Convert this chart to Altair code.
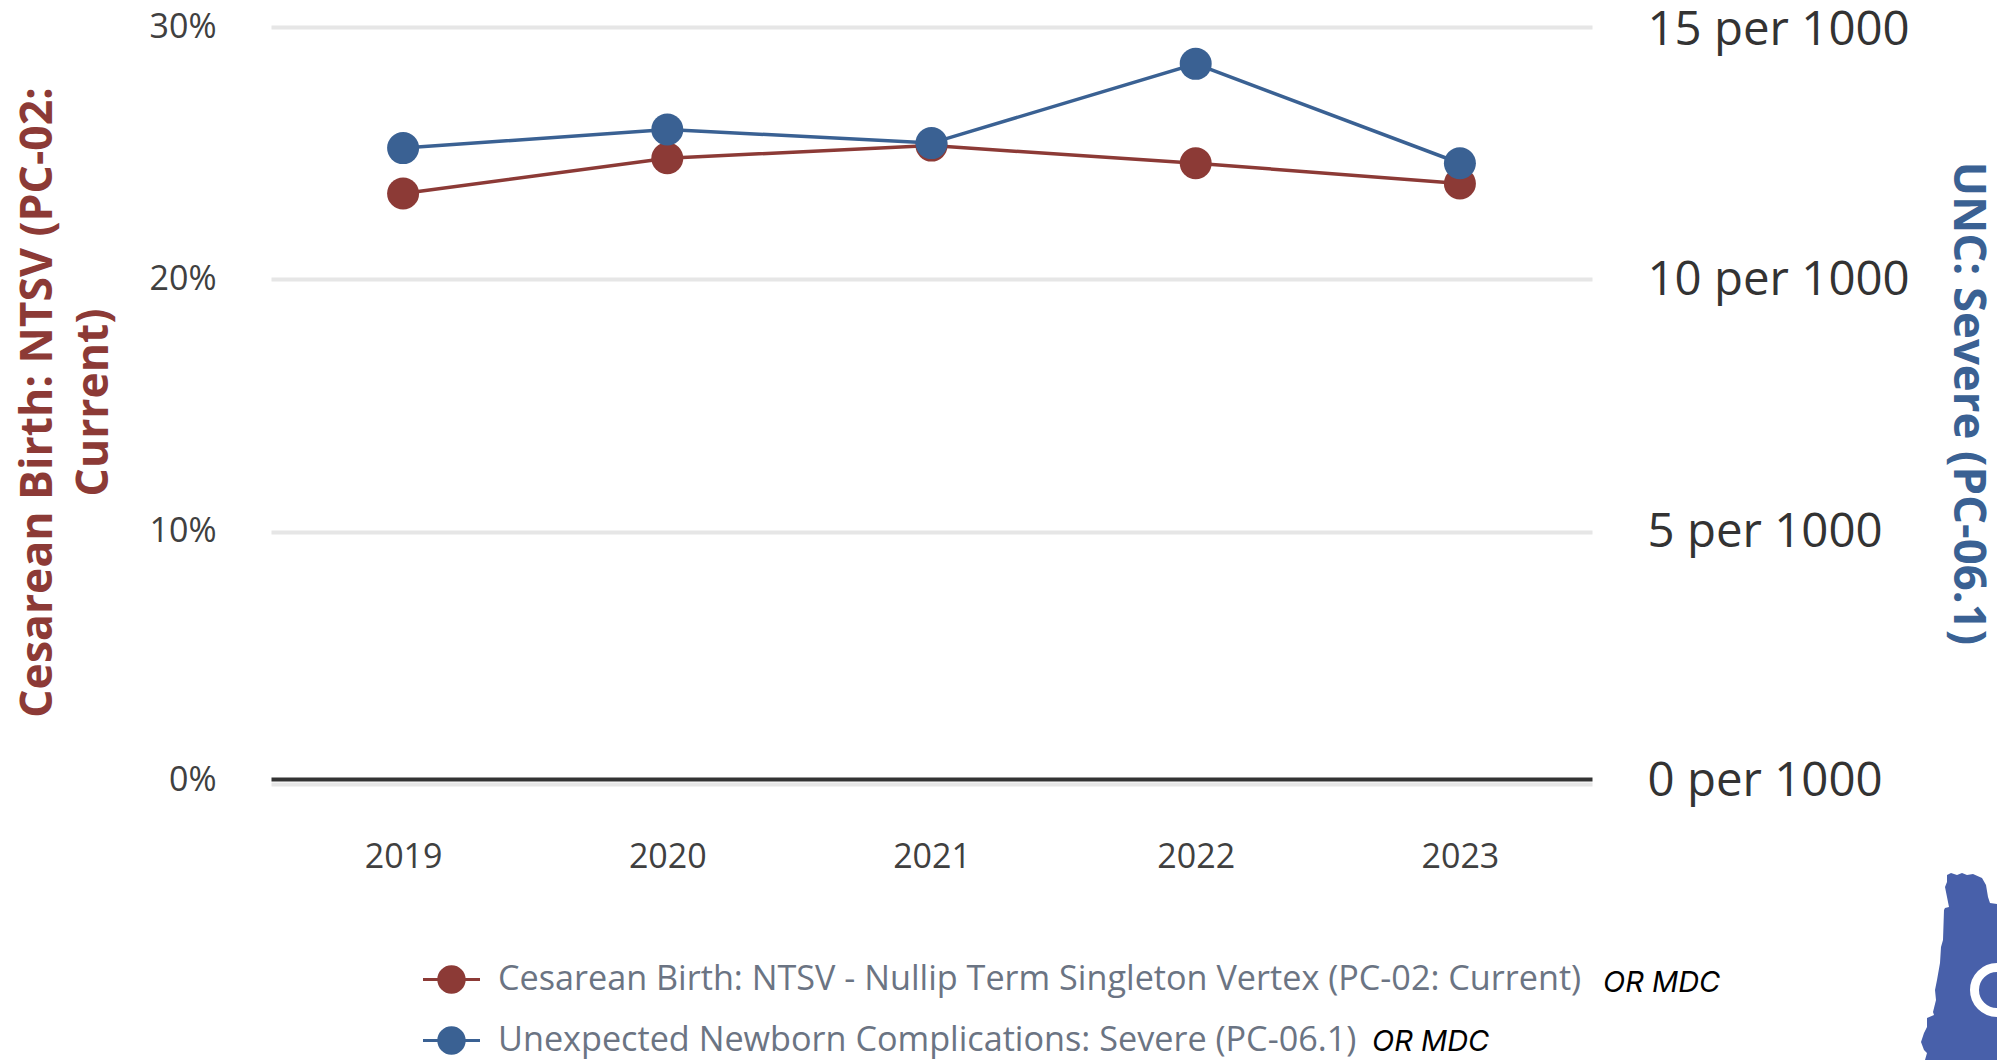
import altair as alt
import pandas as pd

years = ["2019", "2020", "2021", "2022", "2023"]
cesarean = [23.4, 24.8, 25.3, 24.6, 23.8]
newborn = [12.6, 12.97, 12.7, 14.27, 12.3]
name_c = "Cesarean Birth: NTSV - Nullip Term Singleton Vertex (PC-02: Current)"
name_n = "Unexpected Newborn Complications: Severe (PC-06.1)"
left_title = ["Cesarean Birth: NTSV (PC-02:", "Current)"]
right_title = "UNC: Severe (PC-06.1)"
note = "OR MDC"
RED, BLUE = "#8c3a36", "#3a6193"
FONT = "Open Sans"

df_c = pd.DataFrame({"year": years, "value": cesarean, "series": name_c})
df_n = pd.DataFrame({"year": years, "value": newborn, "series": name_n})
one = pd.DataFrame({"label": [note]})

legend_symbol = ("M-1,-0.055 L1,-0.055 L1,0.055 L-1,0.055 Z "
                 "M0.5,0 A0.5,0.5 0 1 1 -0.5,0 A0.5,0.5 0 1 1 0.5,0 Z")
zero_shift = {"condition": {"test": "datum.value === 0", "value": -3.7}, "value": 0}
right_shift = {"condition": [{"test": "datum.value === 0", "value": -2.7},
                             {"test": "datum.value === 15", "value": 3}], "value": 1}

X = alt.X("year:N", title=None, scale=alt.Scale(type="point", padding=0.5),
          axis=alt.Axis(labelAngle=0, labelFont=FONT, labelFontSize=34, labelColor="#404040",
                        labelPadding=61.5, ticks=False, grid=False, offset=-5,
                        domainColor="#333333", domainWidth=4))
color = alt.Color("series:N", scale=alt.Scale(domain=[name_c, name_n], range=[RED, BLUE]),
                  legend=alt.Legend(title=None, orient="none", legendX=152, legendY=924,
                                    symbolType=legend_symbol, symbolSize=3249,
                                    symbolStrokeWidth=0, labelFont=FONT, labelFontSize=34.2,
                                    labelColor="#6b7483", labelLimit=1300, rowPadding=15,
                                    labelOffset=18))
Y_L = alt.Y("value:Q", scale=alt.Scale(domain=[0, 30]),
            axis=alt.Axis(values=[0, 10, 20, 30], format=".0f", labelExpr="datum.label + '%'",
                          orient="left", title=left_title, titleFont=FONT, titleFontSize=44.5,
                          titleFontWeight="bold", titleColor=RED, titleX=-211, titleY=375,
                          titleLineHeight=56, labelOffset=zero_shift,
                          labelFont=FONT, labelFontSize=34, labelColor="#404040", labelPadding=55,
                          ticks=False, domain=False, grid=True, gridColor="#e6e6e6", gridWidth=4))
Y_R = alt.Y("value:Q", scale=alt.Scale(domain=[0, 15]),
            axis=alt.Axis(values=[0, 5, 10, 15], labelExpr="datum.label + ' per 1000'",
                          orient="right", title=right_title, titleFont=FONT, titleFontSize=45.5,
                          titleFontWeight="bold", titleColor=BLUE, titleX=351, titleY=376,
                          labelOffset=right_shift,
                          labelFont=FONT, labelFontSize=47.4, labelColor="#333333", labelPadding=55,
                          labelLimit=400, ticks=False, domain=False, grid=False))

left = alt.layer(
    alt.Chart(df_c).mark_line(strokeWidth=3.5).encode(x=X, y=Y_L, color=color),
    alt.Chart(df_c).mark_point(filled=True, size=1024, opacity=1).encode(x=X, y=Y_L, color=color),
)
right = alt.layer(
    alt.Chart(df_n).mark_line(strokeWidth=3.5).encode(x=X, y=Y_R, color=color),
    alt.Chart(df_n).mark_point(filled=True, size=1024, opacity=1).encode(x=X, y=Y_R, color=color),
)

# logo outline: pixel offsets from the anchor point of the symbol
oregon = ("M-3,-75 L1,-77 L7,-75 L12,-77 L17,-75 L23,-76 L32,-72 L36,-65 L38,-53 L40,-47 L55,-45 "
          "L100,-45 L100,120 L-25,120 L-25,110 L-23,103 L-26,100 L-29,92 L-26,83 L-23,77 L-23,68 "
          "L-16,65 L-17,62 L-14,50 L-15,40 L-13,30 L-10,13 L-9,-3 L-7,-10 L-6,-40 L-5,-42 L-1,-43 "
          "L-3,-53 L-5,-63 L-3,-68 Z")

def px(v):
    return alt.value(v)

logo = alt.Chart(one).mark_point(shape=oregon, size=4, filled=True, opacity=1, color="#4860aa").encode(
    x=px(1950 - 271), y=px(950 - 27))
ring = alt.Chart(one).mark_point(shape="circle", size=2025, filled=False, opacity=1, color="#ffffff",
                                 strokeWidth=9).encode(x=px(1997 - 271), y=px(990 - 27))
note1 = alt.Chart(one).mark_text(font="Inter", fontStyle="italic", fontSize=29, color="#000000",
                                 align="left", baseline="middle").encode(
    x=px(1603 - 271), y=px(983 - 27), text="label:N")
note2 = alt.Chart(one).mark_text(font="Inter", fontStyle="italic", fontSize=29, color="#000000",
                                 align="left", baseline="middle").encode(
    x=px(1372 - 271), y=px(1042 - 27), text="label:N")

chart = alt.layer(left, right, logo, ring, note1, note2).resolve_scale(y="independent").properties(
    width=1321, height=757,
    padding={"left": 263, "top": 19, "right": 405, "bottom": 276},
    autosize=alt.AutoSizeParams(type="none", contains="content"),
).configure_view(stroke=None)

chart.save("out.html", embed_options={"renderer": "svg", "actions": False})
